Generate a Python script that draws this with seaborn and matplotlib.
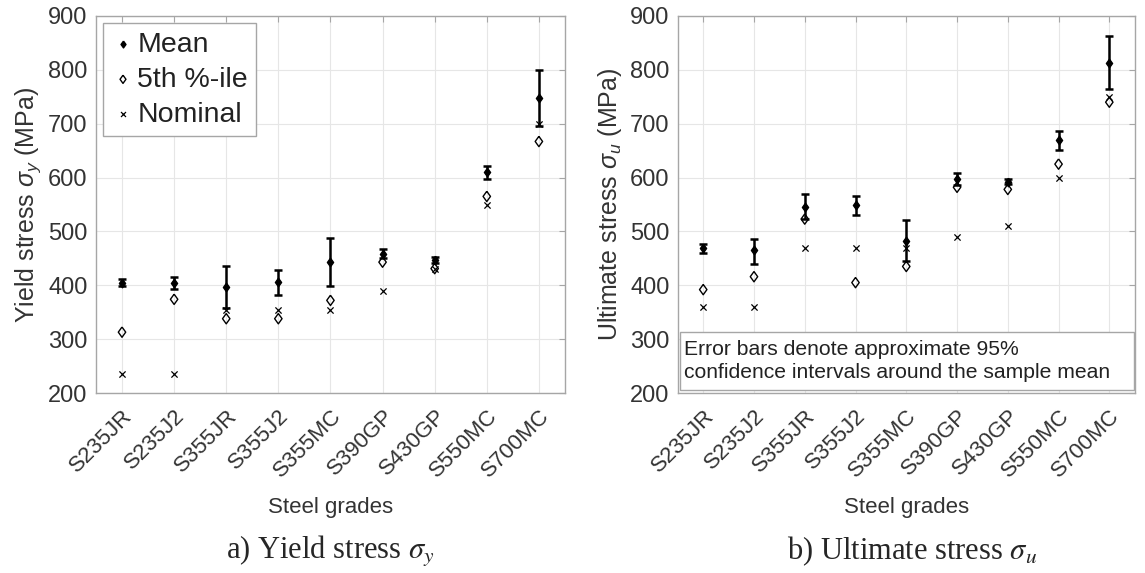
import numpy as np
import pandas as pd
import matplotlib
matplotlib.use('Agg')
import matplotlib.pyplot as plt
from matplotlib.patches import Rectangle
import seaborn as sns

# 钢材牌号
grades = ['S235JR', 'S235J2', 'S355JR', 'S355J2', 'S355MC',
          'S390GP', 'S430GP', 'S550MC', 'S700MC']

# 屈服强度 (MPa)
fy_mean = [404, 405, 397, 406, 443, 458, 447, 611, 747]
fy_lo = [398, 393, 358, 382, 399, 450, 441, 598, 696]
fy_hi = [411, 416, 436, 429, 487, 468, 453, 622, 799]
fy_p5 = [313, 374, 338, 338, 372, 443, 431, 565, 667]
fy_nom = [235, 235, 355, 355, 355, 390, 430, 550, 700]

# 抗拉强度 (MPa)
fu_mean = [469, 465, 546, 550, 483, 598, 592, 670, 813]
fu_lo = [460, 440, 523, 530, 445, 586, 588, 652, 765]
fu_hi = [477, 486, 570, 566, 522, 609, 597, 687, 862]
fu_p5 = [392, 416, 523, 405, 435, 582, 578, 625, 740]
fu_nom = [360, 360, 470, 470, 470, 490, 510, 600, 750]

sns.set_style("whitegrid")
plt.rcParams['font.family'] = ['Liberation Sans', 'DejaVu Sans']
plt.rcParams['mathtext.fontset'] = 'custom'
plt.rcParams['mathtext.it'] = 'Liberation Sans:italic'
plt.rcParams['mathtext.rm'] = 'Liberation Sans'

TXT = '#333333'
EDGE = '#a6a6a6'
# 稍宽一点的菱形 (比 'd' 更胖)
DIAMOND = [(0, 1), (0.72, 0), (0, -1), (-0.72, 0), (0, 1)]

fig = plt.figure(figsize=(11.45, 5.73), dpi=100)
ax1 = fig.add_axes([0.0838, 0.3141, 0.4096, 0.658])
ax2 = fig.add_axes([0.592, 0.3141, 0.399, 0.658])


def draw_panel(ax, mean, lo, hi, p5, nom, ylabel):
    df = pd.DataFrame({'grade': grades, 'mean': mean, 'lo': lo, 'hi': hi,
                       'p5': p5, 'nom': nom})
    yerr = [df['mean'] - df['lo'], df['hi'] - df['mean']]
    ax.errorbar(df['grade'], df['mean'], yerr=yerr, fmt='none', ecolor='k',
                elinewidth=1.8, capsize=3, capthick=1.8, zorder=3)
    sns.scatterplot(data=df, x='grade', y='mean', marker=DIAMOND, s=38,
                    color='k', edgecolor='k', linewidth=1, label='Mean',
                    ax=ax, zorder=4)
    sns.scatterplot(data=df, x='grade', y='p5', marker=DIAMOND, s=55,
                    facecolor='none', edgecolor='k', linewidth=1,
                    label='5th %-ile', ax=ax, zorder=4)
    sns.scatterplot(data=df, x='grade', y='nom', marker='x', s=20,
                    color='k', linewidth=0.9, label='Nominal', ax=ax, zorder=4)

    ax.set_xlim(-0.5, len(grades) - 0.5)
    ax.set_ylim(200, 900)
    ax.set_yticks(np.arange(200, 901, 100))
    ax.set_xticks(range(len(grades)))
    # MATLAB 风格: 标签右上角对准刻度
    ax.set_xticklabels(grades, rotation=45, ha='right', va='top',
                       rotation_mode='anchor', fontsize=16, color=TXT)
    ax.tick_params(axis='y', labelsize=17, labelcolor=TXT, pad=6)
    ax.tick_params(axis='x', pad=9)
    ax.tick_params(direction='in', top=True, right=True, length=4,
                   color=EDGE)
    ax.set_xlabel('Steel grades', fontsize=16, color=TXT, labelpad=11)
    ax.set_ylabel(ylabel, fontsize=18, color=TXT, labelpad=4)
    ax.grid(True, color='#e6e6e6', linewidth=0.8)
    for sp in ax.spines.values():
        sp.set_color(EDGE)
        sp.set_linewidth(1)


draw_panel(ax1, fy_mean, fy_lo, fy_hi, fy_p5, fy_nom,
           r'Yield stress $\sigma_y$ (MPa)')
draw_panel(ax2, fu_mean, fu_lo, fu_hi, fu_p5, fu_nom,
           r'Ultimate stress $\sigma_u$ (MPa)')

leg = ax1.legend(loc='upper left', fontsize=20.5, frameon=True, fancybox=False,
                 framealpha=1, edgecolor=EDGE, handletextpad=0.1,
                 borderpad=0.3, labelspacing=0.32, handlelength=0.8,
                 borderaxespad=0.25, markerscale=0.8)
leg.get_frame().set_linewidth(1)
for t in leg.get_texts():
    t.set_color('#222222')
ax2.get_legend().remove()

# 右图说明文本框
ax2.add_patch(Rectangle((0.004, 0.008), 0.994, 0.154, transform=ax2.transAxes,
                        fc='white', ec=EDGE, lw=1, zorder=5))
ax2.text(0.013, 0.085,
         'Error bars denote approximate 95%\nconfidence intervals around the sample mean',
         transform=ax2.transAxes, fontsize=15.2, color='#222222', ha='left',
         va='center', linespacing=1.25, zorder=6)

fig.text(0.288, 0.038, r'a) Yield stress $\sigma_y$', ha='center', va='center',
         fontsize=22, family='Liberation Serif', math_fontfamily='stix')
fig.text(0.797, 0.038, r'b) Ultimate stress $\sigma_u$', ha='center',
         va='center', fontsize=22, family='Liberation Serif',
         math_fontfamily='stix')

fig.savefig('out.png', dpi=100)
